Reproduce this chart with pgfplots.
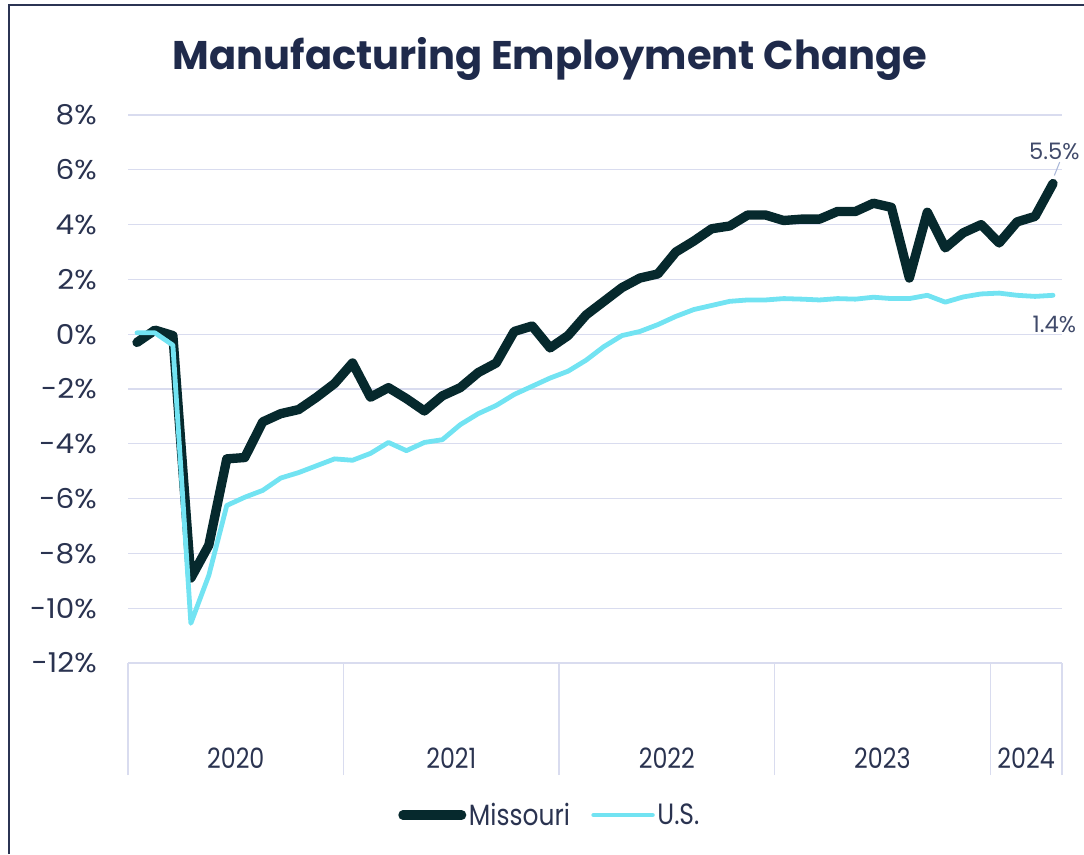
\documentclass[border=0pt]{standalone}
\usepackage{fontspec}
\setmainfont{Poppins}
\newfontfamily\condfont[FakeStretch=0.85]{Poppins}
\newfontfamily\widefont[FakeStretch=1.08]{Poppins}
\usepackage{pgfplots}
\pgfplotsset{compat=1.18}
\usepackage{pgfplotstable}
\definecolor{moc}{HTML}{06292D}
\definecolor{usc}{HTML}{72E3F2}
\definecolor{txtc}{HTML}{1F2A4B}
\definecolor{tickc}{HTML}{2A3350}
\definecolor{gridc}{HTML}{D9DCEF}
\definecolor{framec}{HTML}{2B3453}
\definecolor{annc}{HTML}{404A6A}
\definecolor{leadc}{HTML}{A9B7D8}
\pgfplotstableread{
x mo us
0.5 -0.3 0.05
1.5 0.15 0.05
2.5 -0.05 -0.4
3.5 -8.9 -10.55
4.5 -7.7 -8.8
5.5 -4.55 -6.25
6.5 -4.5 -5.95
7.5 -3.2 -5.7
8.5 -2.9 -5.25
9.5 -2.75 -5.05
10.5 -2.3 -4.8
11.5 -1.8 -4.55
12.5 -1.05 -4.6
13.5 -2.3 -4.35
14.5 -1.95 -3.95
15.5 -2.35 -4.25
16.5 -2.8 -3.95
17.5 -2.25 -3.85
18.5 -1.95 -3.3
19.5 -1.4 -2.9
20.5 -1.05 -2.6
21.5 0.1 -2.2
22.5 0.3 -1.9
23.5 -0.5 -1.6
24.5 -0.05 -1.35
25.5 0.7 -0.95
26.5 1.2 -0.45
27.5 1.7 -0.05
28.5 2.05 0.1
29.5 2.2 0.35
30.5 3.0 0.65
31.5 3.4 0.9
32.5 3.85 1.05
33.5 3.95 1.2
34.5 4.35 1.25
35.5 4.35 1.25
36.5 4.15 1.3
37.5 4.2 1.28
38.5 4.2 1.25
39.5 4.48 1.3
40.5 4.48 1.28
41.5 4.78 1.35
42.5 4.63 1.3
43.5 2.05 1.3
44.5 4.45 1.42
45.5 3.15 1.17
46.5 3.7 1.36
47.5 4.0 1.47
48.5 3.33 1.5
49.5 4.1 1.42
50.5 4.3 1.38
51.5 5.5 1.42
}\datatable
\begin{document}
\begin{tikzpicture}
\useasboundingbox (0,0) rectangle (813pt,-640.5pt);
\draw[framec, line width=1.5pt] (6.75pt,-640.5pt) -- (6.75pt,-3.75pt) -- (813pt,-3.75pt);
\node[font=\bfseries\fontsize{30}{36}\selectfont, text=txtc] at (412.5pt,-44pt) {Manufacturing Employment Change};
\begin{axis}[
  at={(96pt,-497.25pt)}, anchor=south west,
  scale only axis, width=700.5pt, height=411pt,
  xmin=0, xmax=52, ymin=-12, ymax=8,
  axis x line*=bottom, axis y line*=left,
  x axis line style={gridc, line width=0.9pt},
  y axis line style={draw=none},
  ytick={-12,-10,...,8},
  yticklabel={\pgfmathprintnumber{\tick}\%},
  ymajorgrids, major grid style={gridc, line width=0.9pt},
  ytick style={draw=none},
  yticklabel style={font=\widefont\fontsize{20.5}{24}\selectfont, text=tickc, inner sep=0pt, xshift=60.75pt},
  /pgf/number format/assume math mode=true,
  xtick={0,12,24,36,48,52}, xticklabels={},
  tick align=outside,
  major tick length=84pt,
  x tick style={gridc, line width=0.9pt},
  extra x ticks={6,18,30,42,50},
  extra x tick labels={2020,2021,2022,2023,2024},
  extra x tick style={major tick length=0pt, tick label style={font=\condfont\fontsize{21}{24}\selectfont, text=tickc, yshift=-60pt}},
  clip=false,
  legend style={at={(0.452,-0.2774)}, anchor=center, draw=none, fill=none,
    font=\condfont\fontsize{22}{26}\selectfont, text=tickc, legend columns=2,
    /tikz/every even column/.append style={column sep=14pt}},
  legend image code/.code={\draw[#1] (0pt,0pt) -- (44pt,0pt);},
]
\addplot[moc, line width=7pt, line cap=round, line join=round] table[x=x,y=mo]{\datatable};
\addlegendentry{Missouri}
\addplot[usc, line width=3.6pt, line cap=round, line join=round] table[x=x,y=us]{\datatable};
\addlegendentry{U.S.}
\draw[leadc, line width=0.8pt] (axis cs:51.5,5.5) ++(1pt,6pt) -- ++(4pt,10pt);
\node[font=\fontsize{17}{20}\selectfont, text=annc, anchor=south] at (axis cs:51.5,5.5) [xshift=1pt,yshift=14pt] {5.5\%};
\node[font=\fontsize{17}{20}\selectfont, text=annc, anchor=north] at (axis cs:51.5,1.42) [xshift=1pt,yshift=-12pt] {1.4\%};
\end{axis}
\end{tikzpicture}
\end{document}
